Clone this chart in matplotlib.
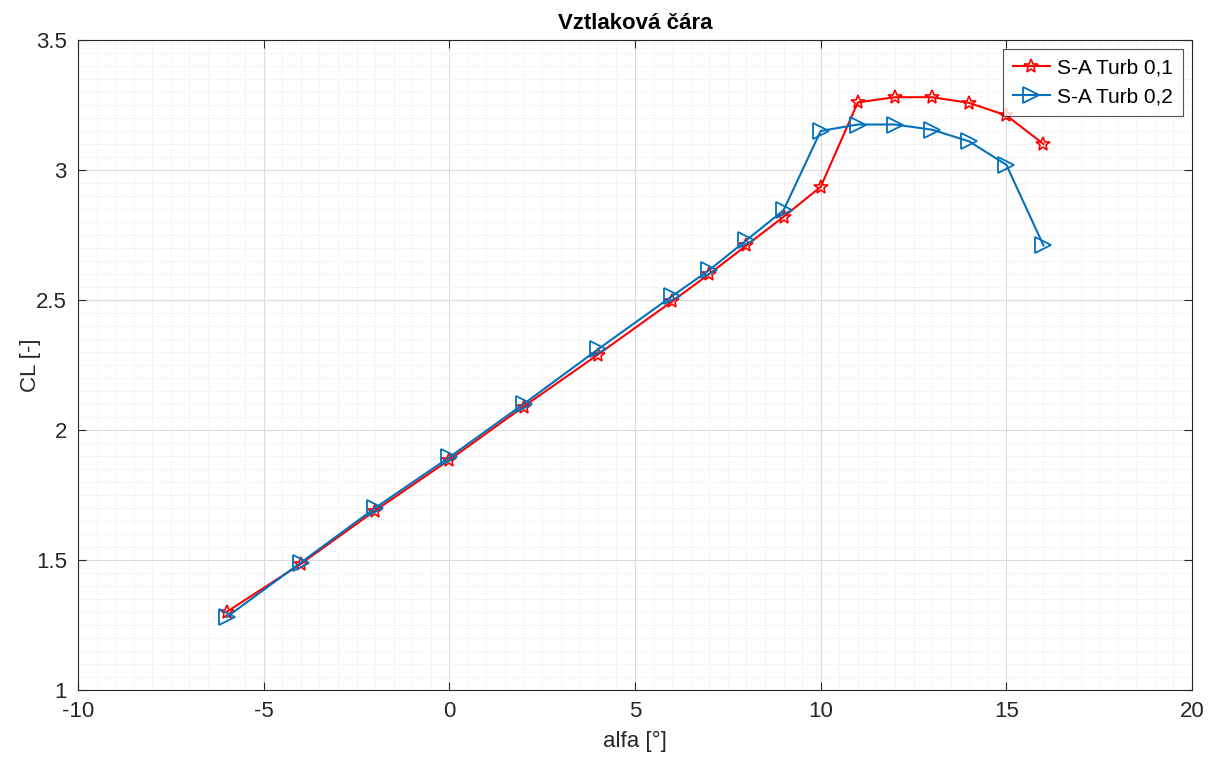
import matplotlib
matplotlib.use("Agg")
import matplotlib.pyplot as plt
from matplotlib.ticker import MultipleLocator

alfa = [-6, -4, -2, 0, 2, 4, 6, 7, 8, 9, 10, 11, 12, 13, 14, 15, 16]
cl_turb01 = [1.30, 1.485, 1.69, 1.885, 2.09, 2.29, 2.495, 2.60, 2.71, 2.82, 2.935,
             3.26, 3.28, 3.28, 3.258, 3.21, 3.10]
cl_turb02 = [1.28, 1.49, 1.70, 1.895, 2.10, 2.31, 2.515, 2.615, 2.73, 2.845, 3.15,
             3.175, 3.175, 3.155, 3.11, 3.02, 2.71]
labels = ["S-A Turb 0,1", "S-A Turb 0,2"]

plt.rcParams['font.family'] = ['Liberation Sans', 'DejaVu Sans']
plt.rcParams['axes.unicode_minus'] = False

fig = plt.figure(figsize=(12.08, 7.6), dpi=100)
ax = fig.add_axes([78/1208, 1 - 690/760, (1192-78)/1208, (690-40)/760])

ax.plot(alfa, cl_turb01, color='#ff0000', lw=1.5, marker='*', ms=10,
        mfc='none', mec='#ff0000', mew=1.2, label=labels[0])
ax.plot(alfa, cl_turb02, color='#0072bd', lw=1.5, marker='>', ms=11,
        mfc='none', mec='#0072bd', mew=1.3, label=labels[1])

ax.set_xlim(-10, 20)
ax.set_ylim(1, 3.5)
ax.xaxis.set_major_locator(MultipleLocator(5))
ax.xaxis.set_minor_locator(MultipleLocator(0.5))
ax.yaxis.set_minor_locator(MultipleLocator(0.05))
ax.set_yticks([1, 1.5, 2, 2.5, 3, 3.5])
ax.set_yticklabels(['1', '1.5', '2', '2.5', '3', '3.5'])

ax.grid(which='major', color='#dcdcdc', lw=0.8)
ax.grid(which='minor', color='#e6e6e6', lw=0.6, ls=(0, (1.5, 2)))
ax.set_axisbelow(True)

ax.tick_params(which='major', direction='in', length=6, width=0.8, top=True, right=True,
               labelsize=16, colors='#262626', pad=8)
ax.tick_params(which='minor', length=0, top=True, right=True)
for s in ax.spines.values():
    s.set_color('#262626')
    s.set_linewidth(0.8)

ax.set_xlabel('alfa [°]', fontsize=16, color='#262626', labelpad=6)
ax.set_ylabel('CL [-]', fontsize=16, color='#262626')
ax.yaxis.set_label_coords(-0.033, 0.5)
ax.set_title('Vztlaková čára', fontsize=16, fontweight='bold', color='#000000', pad=8)

leg = ax.legend(loc='upper right', fontsize=15, frameon=True, fancybox=False,
                edgecolor='#262626', borderaxespad=0.45, handlelength=1.8,
                handletextpad=0.35, borderpad=0.45, labelspacing=0.45)
leg.get_frame().set_linewidth(0.8)

fig.savefig('out.png', dpi=100)
